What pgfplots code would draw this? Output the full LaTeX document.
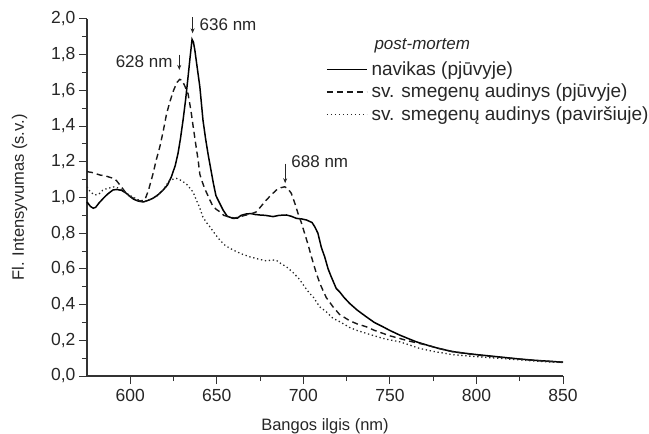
\documentclass[border=0pt]{standalone}
\usepackage{fontspec}
\setmainfont{Liberation Sans}
\usepackage{pgfplots}
\pgfplotsset{compat=1.18}
\usetikzlibrary{arrows.meta}
\begin{document}
\begin{tikzpicture}[font=\fontsize{17bp}{20bp}\selectfont, text=black!85]
\begin{axis}[
  name=ax,
  scale only axis, width=476bp, height=357bp,
  xmin=575, xmax=850, ymin=0, ymax=2.0,
  axis x line*=bottom, axis y line*=left,
  axis line style={black!80, line width=1.2bp, -},
  every tick/.style={black!80, line width=1bp},
  tick align=outside,
  major tick length=8bp, minor tick length=5bp,
  xtick={600,650,700,750,800,850},
  ytick={0,0.2,0.4,0.6,0.8,1.0,1.2,1.4,1.6,1.8,2.0},
  minor x tick num=1, minor y tick num=1,
  /pgf/number format/assume math mode=true,
  yticklabel style={/pgf/number format/.cd, use comma, fixed, fixed zerofill, precision=1},
  tick label style={font=\fontsize{17.5bp}{20bp}\selectfont, text=black!85},
  xticklabel style={yshift=-2bp},
  label style={font=\fontsize{16.5bp}{20bp}\selectfont, text=black!85},
  xlabel={Bangos ilgis (nm)},
  ylabel={Fl. Intensyvumas (s.v.)},
  xlabel style={yshift=-10bp},
  ylabel style={yshift=17bp},
  clip=false,
  legend cell align=left,
  legend style={draw=none, fill=none, at={(axis cs:713,1.766)}, anchor=north west,
    font=\fontsize{19bp}{22bp}\selectfont, row sep=5bp, column sep=3bp, inner sep=0pt,
    nodes={inner sep=1bp}},
  legend image code/.code={\draw[#1] (0bp,0bp) -- (40bp,0bp);},
]
% navikas (pjuvyje)
\addplot[black, line width=1.5bp] coordinates {
(575,0.975) (577,0.95) (578.6,0.94) (580,0.945) (582,0.97) (584.4,0.995) (587,1.02) (590,1.042)
(592,1.045) (595,1.04) (597.5,1.025) (600,1.005) (602,0.99) (604.6,0.98) (607.5,0.975) (610,0.983)
(613,0.995) (616,1.015) (619,1.042) (621.5,1.07) (623.8,1.117) (626,1.18) (627.6,1.248) (629,1.33)
(630.5,1.434) (632,1.55) (633.4,1.677) (634.5,1.78) (635.7,1.886) (636.5,1.87) (637.3,1.826)
(638.5,1.74) (640.2,1.62) (642,1.434) (643.5,1.33) (645,1.24) (646.5,1.16) (648,1.08) (649.5,1.01)
(651.7,0.967) (653.6,0.93) (656,0.895) (659.4,0.883) (662,0.885) (664,0.9) (667.1,0.908) (670,0.91)
(672,0.905) (674.8,0.902) (678,0.9) (682.5,0.893) (686,0.9) (690.2,0.902) (693,0.895) (696,0.883)
(699,0.88) (701.8,0.874) (703.6,0.866) (705,0.86) (706.6,0.836) (708.4,0.80) (710.4,0.72)
(712.3,0.668) (714.3,0.6) (716.1,0.556) (719,0.49) (720.9,0.472) (723.5,0.44) (726.7,0.407)
(731,0.37) (736.3,0.332) (741,0.30) (745.9,0.276) (750,0.255) (755.5,0.23) (760,0.212)
(765.1,0.192) (771.8,0.172) (778,0.155) (786,0.137) (793,0.128) (800,0.12) (808,0.112)
(815,0.105) (825,0.095) (835,0.087) (843,0.082) (850,0.077)
};
\addlegendentry{navikas (pjūvyje)}
% sv. smegenu audinys (pjuvyje)
\addplot[black!90, line width=1.4bp, dash pattern=on 6bp off 4bp] coordinates {
(575,1.145) (578,1.14) (582.5,1.126) (586,1.12) (590.2,1.107) (592,1.095) (594,1.07) (596,1.045)
(597.9,1.02) (600,1.005) (603,0.99) (605.5,0.98) (608.4,0.986) (610.5,1.04) (613.2,1.135)
(615,1.21) (617.1,1.285) (619,1.37) (621,1.47) (623,1.54) (625,1.6) (627,1.645) (628.6,1.662)
(630,1.655) (631.5,1.625) (633.4,1.58) (635,1.49) (636.3,1.40) (637.8,1.30) (639.2,1.21)
(640.2,1.13) (641.5,1.09) (643,1.05) (646,0.986) (647.8,0.95) (649.5,0.935) (651.7,0.92)
(654,0.9) (657.5,0.89) (660,0.885) (663,0.89) (666,0.9) (669,0.905) (672.9,0.92) (675.5,0.95)
(678.6,0.986) (681.5,1.015) (684.4,1.042) (687,1.055) (689.2,1.06) (691,1.05) (693,1.024)
(695,0.97) (696.9,0.911) (698.8,0.86) (700.7,0.80) (702.6,0.74) (704.6,0.67) (707.5,0.575)
(709.5,0.52) (711.3,0.48) (713.2,0.44) (717.1,0.388) (720.9,0.345) (726.7,0.31) (731,0.292)
(736.3,0.276) (741,0.256) (745.9,0.239) (750,0.225) (755.5,0.211) (760,0.198) (765,0.187)
(771.8,0.172) (778,0.155) (786,0.137) (793,0.127) (800,0.118) (810,0.108) (820,0.099)
(830,0.09) (840,0.083) (850,0.077)
};
\addlegendentry{sv. smegenų audinys (pjūvyje)}
% sv. smegenu audinys (pavirsiuje)
\addplot[black!85, line width=1.3bp, dash pattern=on 1.3bp off 2.7bp] coordinates {
(575,1.06) (577,1.03) (579.6,1.014) (582,1.02) (584,1.04) (586.4,1.05) (590.8,1.06) (594,1.05)
(597,1.03) (600,1.01) (603,0.995) (606,0.98) (609,0.98) (612,0.99) (615,1.005) (618,1.03)
(620.5,1.065) (622.9,1.098) (626.7,1.107) (628.5,1.1) (630.5,1.089) (633,1.07) (636.3,1.03)
(638,0.99) (640,0.945) (642,0.89) (644,0.86) (646,0.836) (649,0.795) (651.7,0.762) (655,0.73)
(659.4,0.706) (664,0.685) (669,0.668) (674,0.655) (678.6,0.645) (682,0.65) (684.4,0.648)
(687,0.63) (690.2,0.612) (694,0.58) (697.9,0.54) (700.7,0.5) (703.6,0.463) (705.6,0.444)
(709.4,0.388) (713.2,0.36) (717.1,0.323) (720.9,0.305) (726.7,0.272) (731,0.255) (736.3,0.239)
(741,0.225) (745.9,0.211) (750,0.202) (755.5,0.192) (760,0.178) (767,0.155) (775,0.138)
(786,0.12) (800,0.108) (812,0.1) (825,0.09) (837,0.082) (850,0.075)
};
\addlegendentry{sv. smegenų audinys (paviršiuje)}
% legend title
\node[anchor=west, inner sep=0pt, font=\fontsize{17bp}{20bp}\selectfont\itshape] at (axis cs:741,1.85) {post-mortem};
% annotations
\draw[black!85, line width=0.8bp, -{Stealth[length=5bp,width=4bp]}] (axis cs:636,2.01) -- (axis cs:636,1.92);
\node[anchor=west, inner sep=0pt] at (axis cs:640,1.97) {636 nm};
\draw[black!85, line width=0.8bp, -{Stealth[length=5bp,width=4bp]}] (axis cs:628.3,1.80) -- (axis cs:628.3,1.715);
\node[anchor=east, inner sep=0pt] at (axis cs:624.5,1.76) {628 nm};
\draw[black!85, line width=0.8bp, -{Stealth[length=5bp,width=4bp]}] (axis cs:689.5,1.19) -- (axis cs:689.5,1.08);
\node[anchor=west, inner sep=0pt] at (axis cs:693,1.20) {688 nm};
\end{axis}
\pgfresetboundingbox
\path ([shift={(-87bp,-58bp)}]ax.south west) rectangle ([shift={(86bp,19bp)}]ax.north east);
\end{tikzpicture}
\end{document}
